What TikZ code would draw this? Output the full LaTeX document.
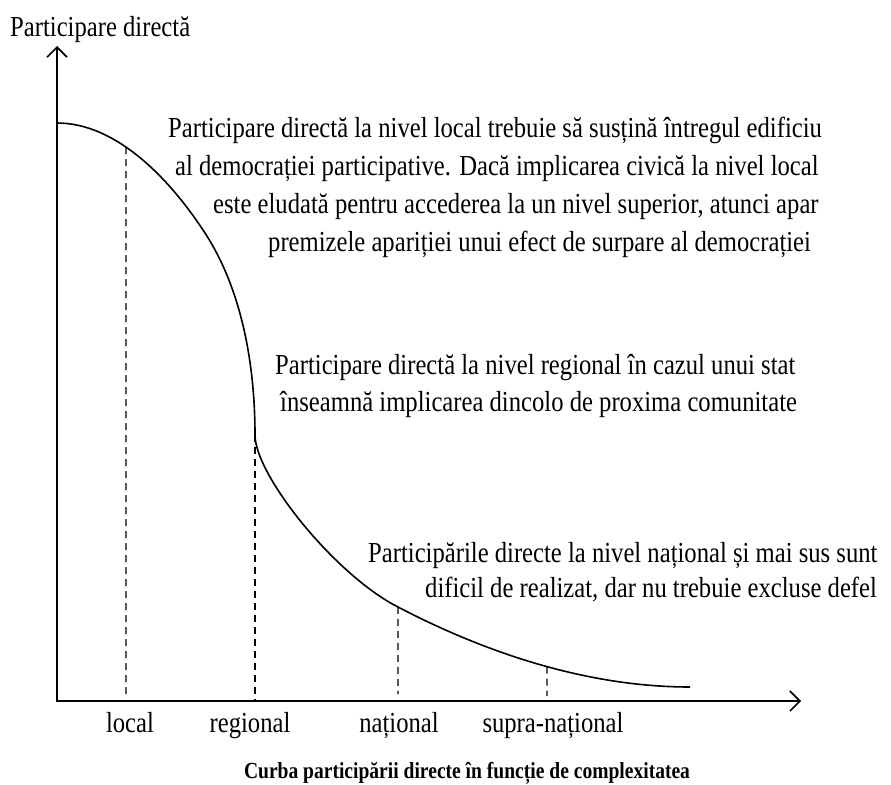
\documentclass[tikz,border=0pt]{standalone}
\usepackage{fontspec}
\setmainfont{Liberation Serif}[FakeStretch=0.85]
\usetikzlibrary{arrows.meta,intersections}
\begin{document}
\begin{tikzpicture}[x=1pt,y=-1pt,
  txt/.style={inner sep=0pt, anchor=base west, font=\fontsize{29}{34}\selectfont},
  lbl/.style={inner sep=0pt, anchor=base, font=\fontsize{29}{34}\selectfont},
  captext/.style={inner sep=0pt, anchor=base, font=\fontsize{23}{26}\selectfont\bfseries},
  axis/.style={line width=2pt, line join=miter,
    {Straight Barb[length=10pt,width=20pt,line width=1.6pt]}-{Straight Barb[length=10pt,width=20pt,line width=1.6pt]}},
  crv/.style={line width=1.6pt},
  guide/.style={line width=1.3pt, dash pattern=on 7pt off 5pt},
]
\useasboundingbox (0,0) rectangle (891,784);
\coordinate (O) at (57,701);
\coordinate (Ytip) at (57,46);
\coordinate (Xtip) at (801,701);
\draw[axis] (Ytip) -- (O) -- (Xtip);

\coordinate (C0) at (57,123);
\coordinate (C1) at (203,230);
\coordinate (R) at (255,435);
\coordinate (C3) at (398,607);
\coordinate (C4) at (690,687);
\draw[crv, name path=curve] (C0) .. controls (117,123) and (170,180) .. (C1)
  .. controls (242,288) and (255,365) .. (R)
  .. controls (255,475) and (335,575) .. (C3)
  .. controls (488,654) and (589,687) .. (C4);

\path[name path=vL] (126,0) -- (126,701);
\path[name path=vN] (398,400) -- (398,701);
\path[name path=vS] (547,400) -- (547,701);
\path[name intersections={of=curve and vL, by=L}];
\path[name intersections={of=curve and vN, by=N}];
\path[name intersections={of=curve and vS, by=S}];
\coordinate (Lb) at (126,694);
\coordinate (Rb) at (255,701);
\coordinate (Nb) at (398,694);
\coordinate (Sb) at (547,696);
\draw[guide] (L) -- (Lb);
\draw[guide] (R) -- (Rb);
\draw[guide] (N) -- (Nb);
\draw[guide] (S) -- (Sb);

\node[txt] (title) at (10,37) {Participare directă};

\node[txt] (p1a) at (168,137) {Participare directă la nivel local trebuie să susțină întregul edificiu};
\node[txt] (p1b) at (175,175) {al democrației participative. Dacă implicarea civică la nivel local};
\node[txt] (p1c) at (213,213) {este eludată pentru accederea la un nivel superior, atunci apar};
\node[txt] (p1d) at (268,251) {premizele apariției unui efect de surpare al democrației};

\node[txt] (p2a) at (275,374) {Participare directă la nivel regional în cazul unui stat};
\node[txt] (p2b) at (280,411) {înseamnă implicarea dincolo de proxima comunitate};

\node[txt] (p3a) at (368,562) {Participările directe la nivel național și mai sus sunt};
\node[txt] (p3b) at (425,597) {dificil de realizat, dar nu trebuie excluse defel};

\node[lbl] (lloc) at (130,732) {local};
\node[lbl] (lreg) at (250,732) {regional};
\node[lbl] (lnat) at (399,732) {național};
\node[lbl] (lsup) at (553,732) {supra-național};

\node[captext] (caption) at (467,778) {Curba participării directe în funcție de complexitatea};
\end{tikzpicture}
\end{document}
